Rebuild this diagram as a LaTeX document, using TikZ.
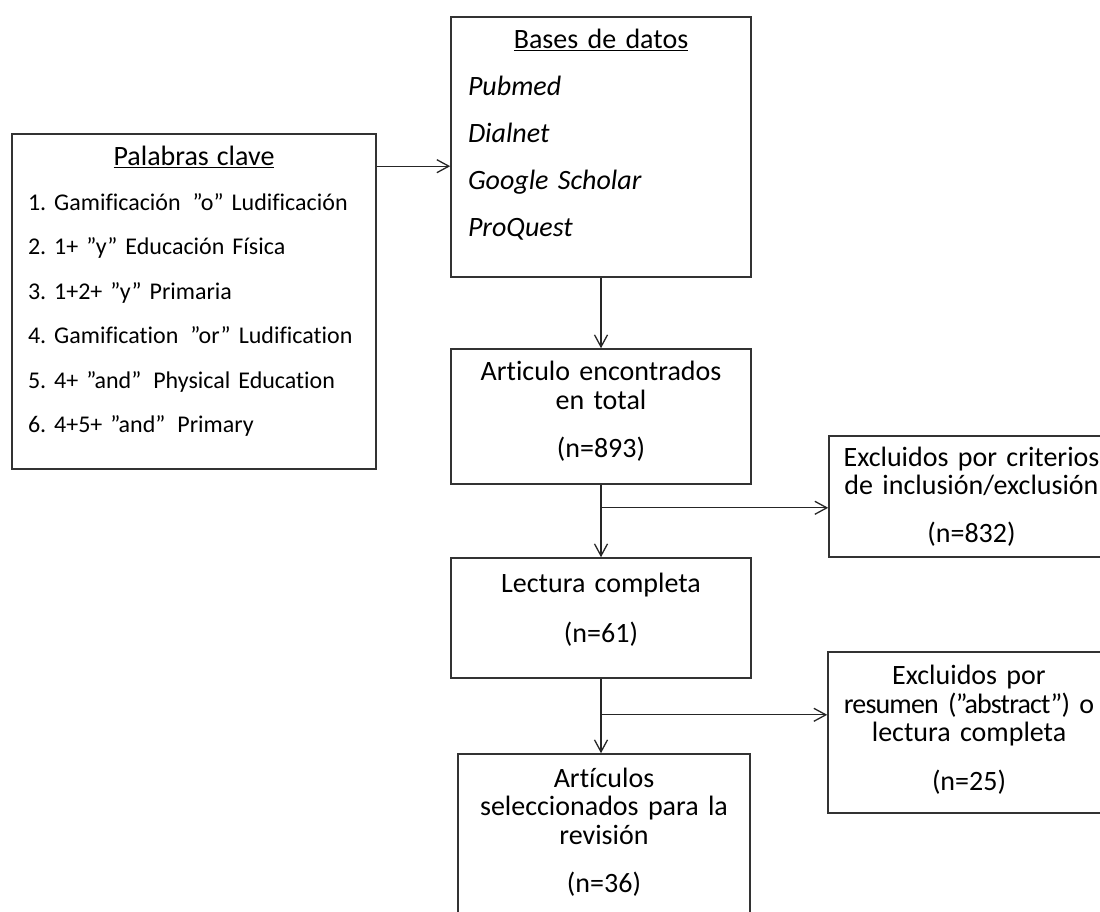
\documentclass[tikz,border=0pt]{standalone}
\usepackage{fontspec}
\setmainfont{Carlito}[Ligatures=CommonOff]
\usetikzlibrary{arrows.meta}
\newcommand\tightwords{\spaceskip=3.5pt\relax}
\tikzset{
  box/.style={draw=black!80, line width=1.6pt, inner xsep=4pt, align=center,
    font=\fontsize{28}{28.5}\selectfont\tightwords},
  arr/.style={draw=black!85, line width=1.3pt, -{Straight Barb[length=12pt,width=13pt]}}
}
\begin{document}
\frenchspacing
\begin{tikzpicture}[x=1pt,y=-1pt]
    \useasboundingbox (0,0) rectangle (1100,912);
    % cajas
    \node (kw) [box, align=left, text width=332pt, inner xsep=16pt, minimum height=335pt,
      font=\fontsize{24}{44.5}\selectfont] at (194,301.5)
      {\makebox[\linewidth]{\fontsize{28}{28}\selectfont\underline{Palabras clave}}\\
       1. Gamificación\ \,”o” Ludificación\\
       2. 1+ ”y” Educación Física\\
       3. 1+2+ ”y” Primaria\\
       4. Gamification\ \,”or” Ludification\\
       5. 4+ ”and”\ \,Physical Education\\
       6. 4+5+ ”and”\ \,Primary\par\kern20pt};
    \node (db) [box, align=left, text width=266pt, inner xsep=17pt, minimum height=260pt,
      font=\fontsize{28}{47}\selectfont\tightwords] at (601,147)
      {\makebox[\linewidth]{\underline{Bases de datos}}\\
       \textit{Pubmed}\\ \textit{Dialnet}\\ \textit{Google Scholar}\\ \textit{ProQuest}\par\kern25pt};
    \node (found) [box, text width=292pt, minimum height=135pt] at (601,416.5)
      {Articulo encontrados\\ en total\\[19.5pt] (n=893)\par\kern11pt};
    \node (read) [box, text width=292pt, minimum height=120pt] at (601,618)
      {Lectura completa\\[21.5pt] (n=61)\par\kern16pt};
    \node (sel) [box, text width=284pt, minimum height=171pt] at (604,839.5)
      {Artículos\\ seleccionados para la\\ revisión\\[20pt] (n=36)\par\kern15pt};
    \node (ex1) [box, text width=277pt, minimum height=121pt] at (971.5,496.5)
      {Excluidos por criterios\\ de inclusión/exclusión\\[19.5pt] (n=832)};
    \node (ex2) [box, text width=274pt, minimum height=161pt] at (969,732.5)
      {Excluidos por\\ {\addfontfeature{LetterSpace=-3}resumen (”abstract”) o}\\ lectura completa\\[20pt] (n=25)\par\kern6pt};
    % flechas
    \coordinate (k1) at ([yshift=-33pt]kw.north east);
    \coordinate (f1) at ([yshift=-23pt]found.south);
    \coordinate (r1) at ([yshift=-36pt]read.south);
    \draw[arr] (k1) -- (k1 -| db.west);
    \draw[arr] (db) -- (found);
    \draw[arr] (found) -- (read);
    \draw[arr] (f1) -- (f1 -| ex1.west);
    \draw[arr] (read.south) -- (read.south |- sel.north);
    \draw[arr] (r1) -- (r1 -| ex2.west);
\end{tikzpicture}
\end{document}
